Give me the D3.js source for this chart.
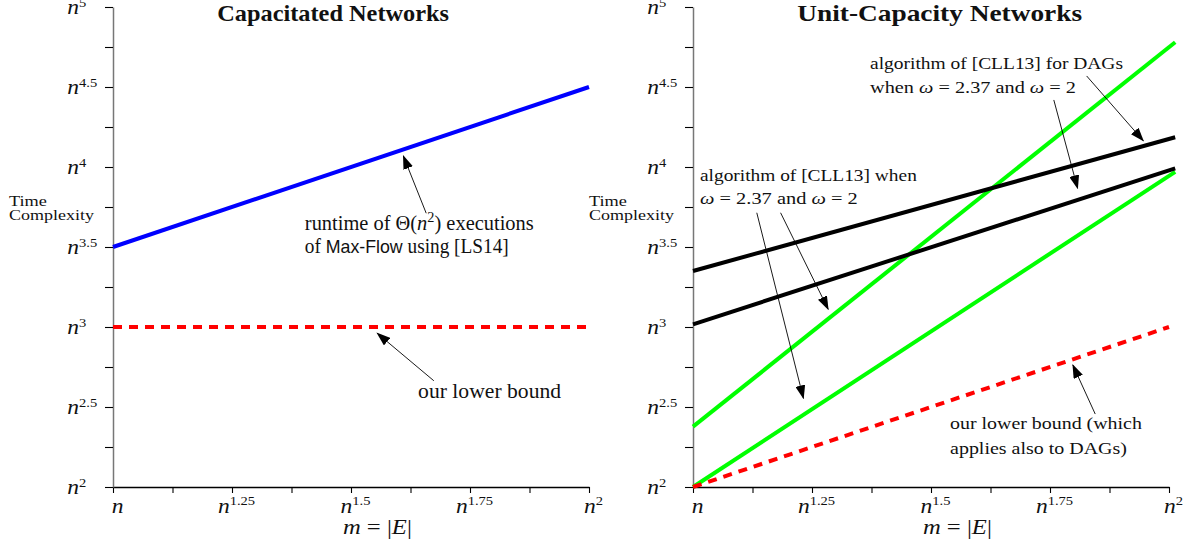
<!DOCTYPE html>
<html>
<head>
<meta charset="utf-8">
<script src="https://cdn.jsdelivr.net/npm/d3@7"></script>
<style>
  body { margin: 0; background: #fff; }
  svg { display: block; }
</style>
</head>
<body>
<svg id="chart" width="1190" height="550"></svg>
<script>
// both axes are exponents of n
const xTickVals = [1, 1.25, 1.5, 1.75, 2];
const xMinorVals = [1.125, 1.375, 1.625, 1.875];
const yTickVals = [2, 2.5, 3, 3.5, 4, 4.5, 5];
const yMinorVals = [2.25, 2.75, 3.25, 3.75, 4.25, 4.75];

// capacitated networks: [exponent of m, exponent of time]
const capMaxFlow = [[1, 3.5], [2, 4.5]];
const capLowerBound = [[1, 3], [2, 3]];

// unit-capacity networks
const unitCllHigh = [[1, 2.377], [2.013, 4.78]];
const unitCllLow = [[1, 2.0], [2.013, 3.97]];
const unitDagHigh = [[1, 3.35], [2.013, 4.186]];
const unitDagLow = [[1, 3.017], [2.013, 3.992]];
const unitLowerBound = [[1, 2], [2, 3]];

const svg = d3.select("#chart");
const serif = "'Liberation Serif', 'Times New Roman', serif";
const sans = "'Liberation Sans', Arial, sans-serif";

svg.append("defs").append("marker")
    .attr("id", "head")
    .attr("viewBox", "0 0 14 10")
    .attr("refX", 13)
    .attr("refY", 5)
    .attr("markerWidth", 14)
    .attr("markerHeight", 10)
    .attr("markerUnits", "userSpaceOnUse")
    .attr("orient", "auto")
  .append("path")
    .attr("d", "M0,0L14,5L0,10Z")
    .attr("fill", "#000");

// text with italic / sans / superscript pieces, stretched to a width
function addRich(parent, px, py, parts, o) {
  const g = parent.append("g").attr("transform", `translate(${px},${py})`);
  const t = g.append("text")
      .attr("font-family", serif)
      .attr("font-size", o.size)
      .attr("font-weight", o.bold ? "bold" : null)
      .attr("text-anchor", o.anchor || "start")
      .attr("fill", "#111");
  let lift = 0;
  parts.forEach(p => {
    const s = t.append("tspan");
    const plain = typeof p === "string";
    if (plain) s.text(p);
    else if (p.it) s.attr("font-style", "italic").text(p.it);
    else if (p.sf) s.attr("font-family", sans).attr("font-size", o.size * 0.92).text(p.sf);
    if (!plain && p.sup) {
      s.attr("font-size", o.supSize).attr("dy", -o.supRise).text(p.sup);
      lift += o.supRise;
    } else if (lift) {
      s.attr("dy", lift);
      lift = 0;
    }
  });
  const k = o.width ? o.width / t.node().getComputedTextLength() : (o.stretch || 1);
  g.attr("transform", `translate(${px},${py}) scale(${k},1)`);
  return g;
}

function drawPanel(cfg) {
  const x = d3.scaleLinear().domain([1, 2]).range([cfg.left, cfg.left + 476]);
  const y = d3.scaleLinear().domain([2, 5]).range([487, 7]);
  const g = svg.append("g");

  const xAxis = g.append("g")
      .attr("transform", `translate(0,${y(2)})`)
      .call(d3.axisBottom(x).tickValues(xTickVals.concat(xMinorVals))
        .tickSize(6).tickSizeOuter(0).tickFormat(""));
  xAxis.select(".domain").attr("stroke", "#000").attr("stroke-width", 1.3);
  xAxis.selectAll(".tick line").attr("stroke", "#000").attr("stroke-width", 1.1);

  const yAxis = g.append("g")
      .attr("transform", `translate(${x(1)},0)`)
      .call(d3.axisLeft(y).tickValues(yTickVals.concat(yMinorVals))
        .tickSize(8).tickSizeOuter(0).tickFormat(""));
  yAxis.select(".domain").attr("stroke", "#777").attr("stroke-width", 1.5);
  yAxis.selectAll(".tick line").attr("stroke", "#000").attr("stroke-width", 1.1);

  xTickVals.forEach(v => {
    const parts = v === 1 ? [{ it: "n" }] : [{ it: "n" }, { sup: String(v) }];
    addRich(g, x(v) + 4.5, y(2) + 26, parts,
      { size: 21, supSize: 13, supRise: 8, anchor: "middle", stretch: 1.12 });
  });
  yTickVals.forEach(v => {
    addRich(g, x(1) - 45.7, y(v) + 7, [{ it: "n" }, { sup: String(v) }],
      { size: 21, supSize: 13, supRise: 7, stretch: 1.12 });
  });

  addRich(g, x(1) - 104, 205.5, ["Time"], { size: 15, width: 38 });
  addRich(g, x(1) - 104, 219.5, ["Complexity"], { size: 15, width: 85 });
  addRich(g, x(1.483), 534, [{ it: "m" }, " = |", { it: "E" }, "|"], { size: 21, width: 69 });
  addRich(g, x(1.219), 21, [cfg.title], { size: 24, bold: true, width: cfg.titleWidth });

  const line = d3.line().x(d => x(d[0])).y(d => y(d[1]));
  cfg.series.forEach(s => {
    g.append("path")
        .datum(s.data)
        .attr("d", line)
        .attr("fill", "none")
        .attr("stroke", s.color)
        .attr("stroke-width", 4)
        .attr("stroke-dasharray", s.dash ? "9,7" : null);
  });

  cfg.arrows.forEach(a => {
    g.append("line")
        .attr("x1", x(a.from[0])).attr("y1", y(a.from[1]))
        .attr("x2", x(a.to[0])).attr("y2", y(a.to[1]))
        .attr("stroke", "#000")
        .attr("stroke-width", 0.9)
        .attr("marker-end", "url(#head)");
  });

  cfg.notes.forEach(n => {
    n.lines.forEach((ln, i) => {
      addRich(g, x(n.x), y(n.y) + i * n.gap, ln,
        { size: n.size, supSize: n.size * 0.7, supRise: n.size * 0.4, width: n.widths[i] });
    });
  });
}

drawPanel({
  left: 113,
  title: "Capacitated Networks",
  titleWidth: 232,
  series: [
    { data: capMaxFlow, color: "#0000ff" },
    { data: capLowerBound, color: "#ff0000", dash: true }
  ],
  arrows: [
    { from: [1.658, 3.711], to: [1.61, 4.069] },
    { from: [1.674, 2.664], to: [1.555, 2.961] }
  ],
  notes: [
    { x: 1.403, y: 3.606, gap: 23, size: 20, widths: [229, 204], lines: [
      ["runtime of Θ(", { it: "n" }, { sup: "2" }, ") executions"],
      ["of ", { sf: "Max-Flow" }, " using [LS14]"]
    ] },
    { x: 1.641, y: 2.556, gap: 23, size: 20, widths: [143], lines: [["our lower bound"]] }
  ]
});

drawPanel({
  left: 693,
  title: "Unit-Capacity Networks",
  titleWidth: 285,
  series: [
    { data: unitCllHigh, color: "#00ff00" },
    { data: unitCllLow, color: "#00ff00" },
    { data: unitDagHigh, color: "#000" },
    { data: unitDagLow, color: "#000" },
    { data: unitLowerBound, color: "#ff0000", dash: true }
  ],
  arrows: [
    { from: [1.827, 4.569], to: [1.946, 4.164] },
    { from: [1.758, 4.419], to: [1.808, 3.867] },
    { from: [1.134, 3.714], to: [1.232, 2.554] },
    { from: [1.184, 3.714], to: [1.284, 3.111] },
    { from: [1.845, 2.456], to: [1.798, 2.7625] }
  ],
  notes: [
    { x: 1.372, y: 4.611, gap: 23.4, size: 17, widths: [253, 206], lines: [
      ["algorithm of [CLL13] for DAGs"],
      ["when ", { it: "ω" }, " = 2.37 and ", { it: "ω" }, " = 2"]
    ] },
    { x: 1.0147, y: 3.914, gap: 23.6, size: 17, widths: [217, 158], lines: [
      ["algorithm of [CLL13] when"],
      [{ it: "ω" }, " = 2.37 and ", { it: "ω" }, " = 2"]
    ] },
    { x: 1.54, y: 2.361, gap: 25, size: 17, widths: [192, 177], lines: [
      ["our lower bound (which"],
      ["applies also to DAGs)"]
    ] }
  ]
});
</script>
</body>
</html>
